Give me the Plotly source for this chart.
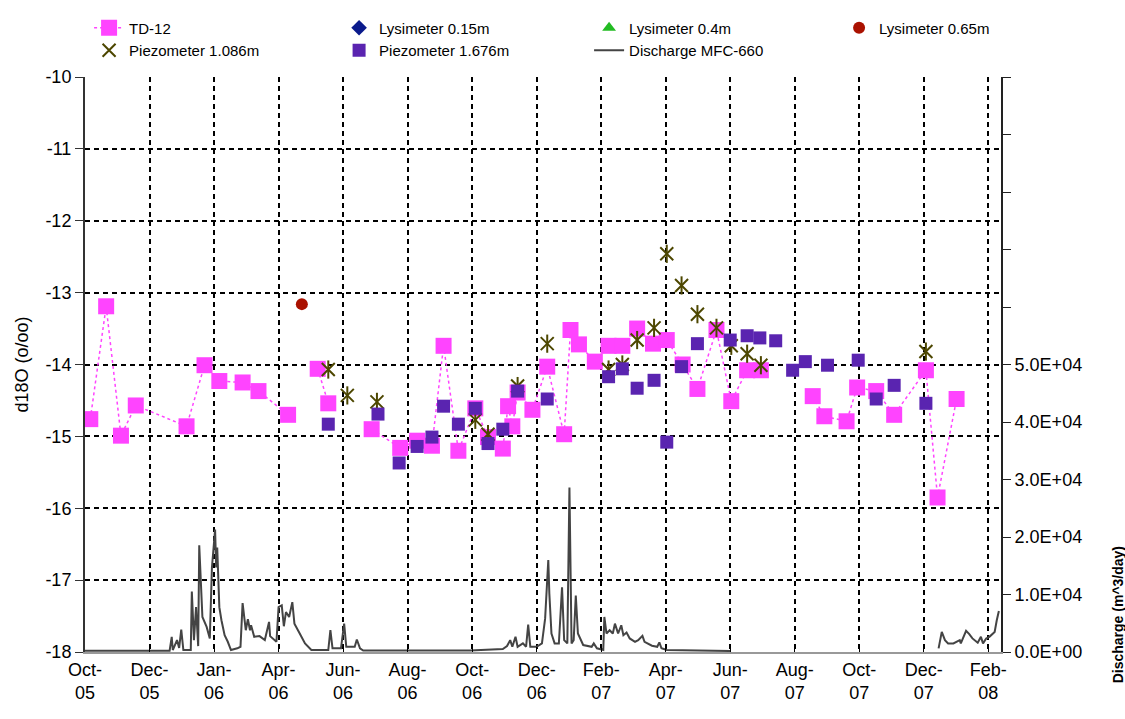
import plotly.graph_objects as go
import pandas as pd

# ---------------- data ----------------
td12_dates = ["2005-10-06","2005-10-21","2005-11-04","2005-11-18","2006-01-05","2006-01-22","2006-02-05",
              "2006-02-27","2006-03-14","2006-04-11",None,"2006-05-09","2006-05-19",None,"2006-06-29",
              "2006-07-26","2006-08-11","2006-08-25","2006-09-05","2006-09-19","2006-10-05","2006-10-17",
              "2006-10-31","2006-11-05","2006-11-09","2006-11-14","2006-11-28","2006-12-12","2006-12-28",
              "2007-01-03","2007-01-11","2007-01-26","2007-02-08","2007-02-21","2007-03-07","2007-03-22",
              "2007-04-04","2007-04-19","2007-05-03","2007-05-21","2007-06-04","2007-06-19","2007-07-02",None,
              "2007-08-20","2007-08-31","2007-09-21","2007-10-01","2007-10-19","2007-11-05","2007-12-05",
              "2007-12-16","2008-01-03"]
td12_vals = [-14.76,-13.19,-14.99,-14.57,-14.86,-14.01,-14.23,-14.25,-14.37,-14.70,None,-14.06,-14.54,None,
             -14.90,-15.16,-15.06,-15.13,-13.74,-15.20,-14.61,-15.01,-15.17,-14.58,-14.86,-14.39,-14.63,
             -14.03,-14.97,-13.52,-13.72,-13.96,-13.74,-13.74,-13.50,-13.71,-13.66,-14.00,-14.34,-13.52,
             -14.51,-14.08,-14.08,None,-14.44,-14.72,-14.79,-14.32,-14.37,-14.70,-14.08,-15.85,-14.48]

# no samples visible for these two lysimeters (legend entries only)
lys015_dates = [None]
lys015_vals = [None]
lys04_dates = [None]
lys04_vals = [None]
lys065_dates = ["2006-04-24"]
lys065_vals = [-13.16]

piez1086_dates = ["2006-05-19","2006-06-06","2006-07-04","2006-10-05","2006-10-17","2006-11-14","2006-12-12",
                  "2007-02-08","2007-02-21","2007-03-07","2007-03-23","2007-04-04","2007-04-18","2007-05-03",
                  "2007-05-21","2007-06-04","2007-06-19","2007-07-02","2007-12-05"]
piez1086_vals = [-14.07,-14.43,-14.52,-14.77,-14.97,-14.30,-13.71,-14.07,-14.00,-13.66,-13.49,-12.46,-12.90,
                 -13.30,-13.49,-13.74,-13.85,-14.01,-13.82]

piez1676_dates = ["2006-05-19","2006-07-05","2006-07-25","2006-08-11","2006-08-25","2006-09-05","2006-09-19",
                  "2006-10-05","2006-10-17","2006-10-31","2006-11-14","2006-12-12","2007-02-08","2007-02-21",
                  "2007-03-07","2007-03-23","2007-04-04","2007-04-18","2007-05-03","2007-06-03","2007-06-19",
                  "2007-07-01","2007-07-16","2007-08-01","2007-08-13","2007-09-03","2007-10-02","2007-10-19",
                  "2007-11-05","2007-12-05"]
piez1676_vals = [-14.83,-14.69,-15.37,-15.14,-15.01,-14.58,-14.83,-14.61,-15.10,-14.90,-14.37,-14.48,-14.17,
                 -14.06,-14.33,-14.22,-15.08,-14.03,-13.71,-13.66,-13.60,-13.63,-13.67,-14.08,-13.96,-14.01,
                 -13.94,-14.48,-14.29,-14.54]

discharge_dates = ["2005-10-01","2005-12-20","2005-12-22","2005-12-23","2005-12-27","2005-12-29","2005-12-31",
                   "2006-01-02","2006-01-09","2006-01-10","2006-01-12","2006-01-14","2006-01-16","2006-01-17",
                   "2006-01-20","2006-01-24","2006-01-27","2006-01-29","2006-02-01","2006-02-02","2006-02-03",
                   "2006-02-05","2006-02-07","2006-02-10","2006-02-13","2006-02-16","2006-02-22","2006-02-25",
                   "2006-02-27","2006-03-02","2006-03-04","2006-03-06","2006-03-07","2006-03-10","2006-03-15",
                   "2006-03-20","2006-03-24","2006-03-25","2006-03-31","2006-04-02","2006-04-05","2006-04-07",
                   "2006-04-09","2006-04-12","2006-04-15","2006-04-17","2006-04-22","2006-04-27","2006-05-03",
                   "2006-05-19","2006-05-21","2006-05-23","2006-05-31","2006-06-03","2006-06-05","2006-06-13",
                   "2006-06-15","2006-06-18","2006-06-21","2006-09-30","2006-10-31","2006-11-04","2006-11-07",
                   "2006-11-09","2006-11-12","2006-11-14","2006-11-19","2006-11-22","2006-11-24","2006-11-26",
                   "2006-12-02","2006-12-07","2006-12-10","2006-12-13","2006-12-14","2006-12-16","2006-12-19",
                   "2006-12-23","2006-12-26","2006-12-28","2006-12-31","2007-01-02","2007-01-04","2007-01-06",
                   "2007-01-08","2007-01-10","2007-01-15","2007-01-23","2007-01-25","2007-01-28","2007-02-03",
                   "2007-02-04","2007-02-06","2007-02-09","2007-02-12","2007-02-14","2007-02-17","2007-02-20",
                   "2007-02-22","2007-02-25","2007-02-28","2007-03-05","2007-03-08","2007-03-12","2007-03-14",
                   "2007-03-21","2007-03-26","2007-03-28","2007-03-30","2007-04-04","2007-06-03",None,
                   "2007-12-17","2007-12-20","2007-12-23","2007-12-26","2007-12-31","2008-01-03","2008-01-06",
                   "2008-01-07","2008-01-12","2008-01-15","2008-01-18","2008-01-23","2008-01-26","2008-01-28",
                   "2008-01-31","2008-02-03","2008-02-08","2008-02-10","2008-02-12"]
discharge_vals = [220,220,2640,340,2070,700,3910,
                  340,340,10500,2070,7800,1030,18570,
                  6090,4360,2360,14700,21300,14700,18150,
                  7800,5520,2930,1780,340,640,910,
                  8500,3790,5690,3790,4650,2640,2760,
                  2070,5230,2760,1780,7800,8100,4480,
                  6950,6090,8680,4940,3220,1500,340,
                  340,3790,640,640,4940,910,910,
                  2180,640,260,260,520,1030,2070,
                  910,2640,910,1500,910,4770,910,
                  910,1500,5800,15980,10120,3220,1500,
                  1500,11260,2070,1500,28620,1500,2070,
                  9830,3220,1210,910,1500,640,340,
                  6090,3220,3790,3220,4940,3220,4650,
                  2930,3400,2360,1780,2070,2810,1780,
                  1090,910,1670,640,340,170,None,
                  640,3500,2070,1500,1500,1720,2070,
                  1500,3670,3100,2360,1600,2640,1500,
                  2360,2640,3500,5520,7120]

x_tick_labels = ["Oct-<br>05","Dec-<br>05","Jan-<br>06","Apr-<br>06","Jun-<br>06","Aug-<br>06","Oct-<br>06",
                 "Dec-<br>06","Feb-<br>07","Apr-<br>07","Jun-<br>07","Aug-<br>07","Oct-<br>07","Dec-<br>07",
                 "Feb-<br>08"]
x_tick_start = "2005-10-01"
x_tick_step_days = 61
x_range = ["2005-10-01", "2008-02-14"]

y_ticks = [-18, -17, -16, -15, -14, -13, -12, -11, -10]
y_tick_labels = ["-18", "-17", "-16", "-15", "-14", "-13", "-12", "-11", "-10"]
y2_ticks = [0, 10000, 20000, 30000, 40000, 50000, 60000, 70000, 80000, 90000, 100000]
y2_tick_labels = ["0.0E+00","1.0E+04","2.0E+04","3.0E+04","4.0E+04","5.0E+04","","","","",""]

# ---------------- figure ----------------
FONT = "Liberation Sans, Arial, sans-serif"
x_tick_vals = list(pd.date_range(x_tick_start, periods=len(x_tick_labels), freq=f"{x_tick_step_days}D"))

fig = go.Figure()

fig.add_trace(go.Scatter(
    x=discharge_dates, y=discharge_vals, name="Discharge MFC-660", mode="lines",
    line=dict(color="#444444", width=2), yaxis="y2", connectgaps=False, legendrank=7))

fig.add_trace(go.Scatter(
    x=td12_dates, y=td12_vals, name="TD-12", mode="lines+markers", connectgaps=False,
    line=dict(color="#FF44FF", width=1.5, dash="dot"),
    marker=dict(symbol="square", size=16, color="#FF44FF"), legendrank=1))

fig.add_trace(go.Scatter(
    x=lys015_dates, y=lys015_vals, name="Lysimeter 0.15m", mode="markers", showlegend=True,
    marker=dict(symbol="diamond", size=12, color="#0A1A8C"), legendrank=2))

fig.add_trace(go.Scatter(
    x=lys04_dates, y=lys04_vals, name="Lysimeter 0.4m", mode="markers", showlegend=True,
    marker=dict(symbol="triangle-up", size=12, color="#22BB22"), legendrank=3))

fig.add_trace(go.Scatter(
    x=lys065_dates, y=lys065_vals, name="Lysimeter 0.65m", mode="markers",
    marker=dict(symbol="circle", size=12, color="#AA1100"), legendrank=4))

fig.add_trace(go.Scatter(
    x=piez1086_dates, y=piez1086_vals, name="Piezometer 1.086m", mode="markers",
    marker=dict(symbol="x-thin", size=13, color="#4D4700", line=dict(color="#4D4700", width=2)),
    legendrank=5))
fig.add_trace(go.Scatter(
    x=piez1086_dates, y=piez1086_vals, name="Piezometer 1.086m", mode="markers", showlegend=False,
    marker=dict(symbol="line-ns", size=13, color="#4D4700", line=dict(color="#4D4700", width=2))))

fig.add_trace(go.Scatter(
    x=piez1676_dates, y=piez1676_vals, name="Piezometer 1.676m", mode="markers",
    marker=dict(symbol="square", size=13, color="#5A24B0"), legendrank=6))

fig.update_layout(
    width=1125, height=719,
    margin=dict(l=85, r=124, t=72, b=67),
    paper_bgcolor="white", plot_bgcolor="white",
    font=dict(family=FONT, color="black", size=18),
    showlegend=True,
    legend=dict(orientation="h", x=-0.001, xanchor="left", y=1.114, yanchor="top",
                entrywidth=200, indentation=5, font=dict(size=15), bgcolor="rgba(0,0,0,0)",
                tracegroupgap=0, itemsizing="trace"),
    xaxis=dict(type="date", range=x_range, tickmode="array", tickvals=x_tick_vals, ticktext=x_tick_labels,
               showgrid=True, gridcolor="black", gridwidth=1.5, griddash="5px,4px",
               showline=True, linecolor="#999999", linewidth=2, ticks="inside", ticklen=5,
               tickcolor="black", tickfont=dict(size=18), zeroline=False),
    yaxis=dict(range=[-18, -10], tickmode="array", tickvals=y_ticks, ticktext=y_tick_labels,
               showgrid=True, gridcolor="black",
               gridwidth=1.5, griddash="5px,4px", showline=True, linecolor="#333333", linewidth=2,
               ticks="outside", ticklen=8, tickcolor="#333333", tickfont=dict(size=18), zeroline=False,
               title=dict(text="d18O (o/oo)", font=dict(size=18), standoff=12)),
    yaxis2=dict(range=[0, 100000], overlaying="y", side="right", anchor="x", tickmode="array",
                tickvals=y2_ticks, ticktext=y2_tick_labels, showgrid=False, showline=True,
                linecolor="#222222", linewidth=2, ticks="outside", ticklen=8, tickcolor="#222222",
                tickfont=dict(size=18), zeroline=False),
    yaxis3=dict(range=[0, 100000], overlaying="y", side="right", anchor="x", tickmode="array",
                tickvals=y2_ticks, showticklabels=False, showgrid=False, showline=False,
                ticks="inside", ticklen=8, tickcolor="#222222", zeroline=False),
)

fig.add_annotation(text="<b>Discharge (m^3/day)</b>", xref="paper", yref="paper",
                   x=1.0 + (1118 - 1001) / 916, y=(652 - 615) / 580, textangle=-90,
                   showarrow=False, font=dict(size=14, family=FONT), xanchor="center", yanchor="middle")

fig.write_html("out.html")
